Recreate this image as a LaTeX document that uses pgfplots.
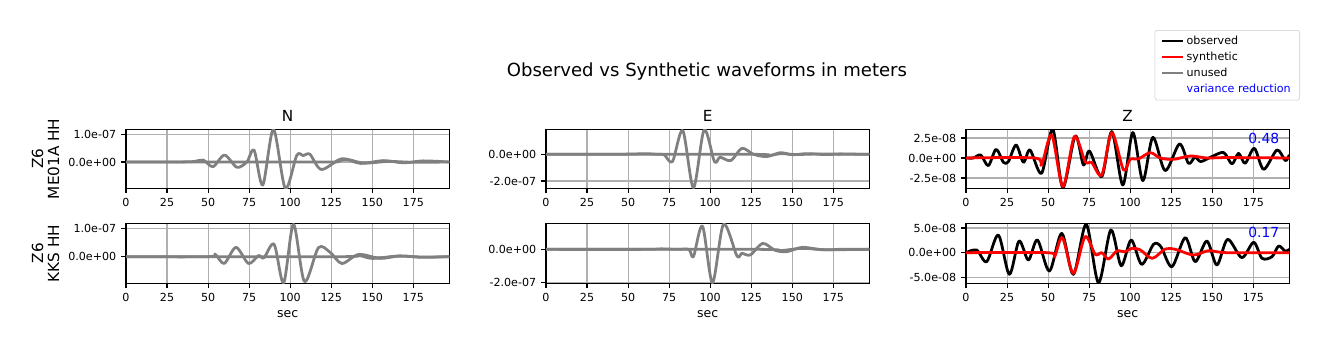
\documentclass[border=0pt]{standalone}
\usepackage{pgfplots}
\pgfplotsset{compat=1.18}
\usepackage{fontspec}
\setmainfont{DejaVu Sans}
\definecolor{mgray}{HTML}{808080}
\definecolor{gridc}{HTML}{B0B0B0}
\definecolor{vrblue}{HTML}{0000FF}
\definecolor{legedge}{HTML}{CCCCCC}
\pgfplotsset{
  wave/.style={
    scale only axis, width=232.78pt, anchor=south west,
    xmin=0, xmax=196.9,
    xtick={0,25,50,75,100,125,150,175},
    xticklabels={0,25,50,75,100,125,150,175},
    grid=major, major grid style={gridc, line width=0.8pt},
    axis line style={line width=0.8pt},
    tick style={black, line width=0.8pt},
    tick align=outside, major tick length=3.5pt, tick pos=left,
    ticklabel style={font=\fontsize{8}{9.6}\selectfont},
    /pgf/number format/assume math mode=true,
  },
  obs/.style={black, line width=2pt, smooth, line join=round},
  syn/.style={red, line width=2pt, smooth, line join=round},
  unu/.style={mgray, line width=2pt, smooth, line join=round},
}
\begin{document}
\begin{tikzpicture}
\path (0,0) rectangle (956.88pt,252.72pt);
% ---------- Row 1 : ME01A (values in 1e-8 m) ----------
\begin{axis}[wave, at={(90.72pt,117.14pt)}, height=42.48pt,
  ymin=-9.5, ymax=11.8, ytick={0,10}, yticklabels={0.0e+00,1.0e-07}]
\addplot[unu] coordinates {(0,0) (120,0) (128,0.3) (135,0.9) (145,-0.4) (160,0.2) (175,-0.1) (196.9,0)};
\addplot[unu] coordinates {(0,0) (20,0) (40,0.1) (47,0.7) (53,-1.7) (60,2.5) (67.5,-1.9) (73.6,0) (78,4.3) (83.3,-8.3) (89.8,11.8) (97,-9.5) (104,2.4) (108,2.3) (112,2.8) (119,-2.7) (131.5,1.2) (142.7,-0.5) (157,0.5) (169,-0.3) (181,0.4) (196.9,0)};
\end{axis}
\begin{axis}[wave, at={(393.12pt,117.14pt)}, height=42.48pt,
  ymin=-25.5, ymax=18.75, ytick={-20,0}, yticklabels={-2.0e-07,0.0e+00}]
\addplot[unu] coordinates {(0,0) (125,0) (135,-1.0) (143,0.5) (152,-0.2) (165,0.2) (196.9,0)};
\addplot[unu] coordinates {(0,0) (40,0) (55,0.3) (61,0.5) (68,0) (72,-0.3) (77,-5.5) (83.3,17.8) (89.8,-25.0) (96.3,18.3) (102.6,-5.5) (106,-2.2) (112.6,-4.7) (119.3,4.5) (126.4,0) (134.5,-1.7) (142.7,1.2) (150,-0.3) (159,0.5) (170,-0.2) (181,0.2) (196.9,0)};
\end{axis}
\begin{axis}[wave, at={(695.52pt,117.14pt)}, height=42.48pt,
  ymin=-3.79, ymax=3.58, ytick={-2.5,0,2.5}, yticklabels={-2.5e-08,0.0e+00,2.5e-08},
  legend style={at={(1.0331,2.683)}, anchor=north east, draw=legedge, rounded corners=2pt,
    font=\fontsize{8}{9.6}\selectfont, cells={anchor=west}, row sep=0pt, inner xsep=4.5pt, inner ysep=2pt},
  legend cell align=left,
  legend image code/.code={\draw[#1] (0pt,0pt) -- (15pt,0pt);}]
\addlegendimage{black, line width=1.44pt}
\addlegendentry{observed}
\addlegendimage{red, line width=1.44pt}
\addlegendentry{synthetic}
\addlegendimage{mgray, line width=1.44pt}
\addlegendentry{unused}
\addlegendimage{empty legend}
\addlegendentry{\textcolor{vrblue}{variance reduction}}
\addplot[obs, forget plot] coordinates {(0,0) (4.5,0) (9,0.37) (13.6,-0.96) (18.3,1.08) (22.8,-0.54) (25.8,-0.46) (30.5,1.62) (35,-0.54) (39,1.0) (46,-1.92) (52.8,3.58) (59,-3.7) (66.5,2.75) (71.5,-0.87) (75.2,0.87) (82.7,-2.33) (88.8,3.3) (95.5,-3.37) (101.6,3.17) (107.7,-2.83) (113.8,2.58) (121.3,-1.58) (130,1.75) (135.5,-0.67) (139.5,0.1) (143,-0.45) (150,0.2) (157,0.67) (162,-0.75) (166,0.58) (170,-0.67) (175.6,1.2) (181.3,-1.42) (189.4,1.0) (194.5,-0.33) (196.9,0.4)};
\addplot[syn, forget plot] coordinates {(0,0) (42,0) (46,-0.87) (52.2,2.87) (59,-3.58) (66,2.67) (72.6,-0.46) (76.6,-0.58) (82.7,-2.12) (88.8,3.17) (95.9,-1.5) (100,-0.17) (105,-0.12) (112.2,0.67) (118.3,0) (126.4,-0.17) (136.6,0.25) (146.7,0) (159,0.05) (196.9,0)};
\node[anchor=east, text=vrblue, font=\fontsize{10}{12}\selectfont] at (axis description cs:0.984,0.853) {0.48};
\end{axis}
% ---------- Row 2 : KKS ----------
\begin{axis}[wave, at={(90.72pt,48.74pt)}, height=43.2pt,
  ymin=-9.4, ymax=11.8, ytick={0,10}, yticklabels={0.0e+00,1.0e-07}]
\addplot[unu] coordinates {(0,0) (130,0) (141,0.5) (150,-0.6) (165,0.2) (180,-0.1) (196.9,0)};
\addplot[unu] coordinates {(0,0) (50,0) (54.3,0.9) (59.8,-2.4) (67,3.3) (74.6,-2.4) (80.7,0.4) (84,-0.4) (90.2,4.4) (96,-9.2) (102,11.4) (108.7,-8.8) (117.2,3.2) (124.4,1.5) (131.5,-2.4) (141.7,0.8) (155,-0.6) (167,0.3) (180,-0.2) (196.9,0)};
\end{axis}
\begin{axis}[wave, at={(393.12pt,48.74pt)}, height=43.2pt,
  ymin=-20.6, ymax=15.8, ytick={-20,0}, yticklabels={-2.0e-07,0.0e+00}]
\addplot[unu] coordinates {(0,0) (130,0) (142,-0.8) (156,0.6) (170,-0.2) (196.9,0)};
\addplot[unu] coordinates {(0,0) (60,0) (70,0.3) (80,0) (87,0) (89.8,-4.4) (95.3,14.1) (101.4,-20.2) (108.1,15.2) (116.3,-4.0) (119.3,-2.4) (124.4,-3.4) (132,3.6) (139.6,-0.6) (146.7,-1.4) (156,1.2) (169,-0.3) (181,0.1) (196.9,0)};
\end{axis}
\begin{axis}[wave, at={(695.52pt,48.74pt)}, height=43.2pt,
  ymin=-6.2, ymax=5.95, ytick={-5,0,5}, yticklabels={-5.0e-08,0.0e+00,5.0e-08}]
\addplot[obs] coordinates {(0,0) (6.5,0.54) (12.6,-1.82) (19.7,3.58) (26.4,-4.39) (32.3,2.36) (38,-1.49) (43.5,2.57) (50.8,-3.72) (58.3,3.92) (65.4,-4.39) (73.2,5.74) (80.7,-6.08) (88.2,4.59) (94.5,-2.64) (100.6,2.57) (107,-2.36) (114.2,1.69) (118.7,1.22) (125.4,-2.84) (133.5,3.04) (139.6,-1.82) (146.7,2.36) (152.8,-2.5) (159.3,2.7) (168,-1.0) (175.2,2.1) (180.3,-1.15) (186.4,-0.8) (190.4,1.35) (194.5,0.3) (196.9,0.7)};
\addplot[syn] coordinates {(0,0) (50,0) (53.9,-0.81) (58.7,3.04) (65.4,-4.19) (72.5,3.24) (78.7,-0.34) (82.7,0) (86.8,-1.28) (91.9,0.34) (97,0.2) (101,0.88) (106,0.6) (113.4,-1.15) (121.3,0.74) (127.4,0.68) (138.6,-0.47) (147.7,0.4) (159,0) (196.9,0)};
\node[anchor=east, text=vrblue, font=\fontsize{10}{12}\selectfont] at (axis description cs:0.984,0.84) {0.17};
\end{axis}
% ---------- texts ----------
\node[font=\fontsize{13}{15.6}\selectfont] at (509.0pt,200.9pt) {Observed vs Synthetic waveforms in meters};
\node[font=\fontsize{11}{13.2}\selectfont] at (207.1pt,169.2pt) {N};
\node[font=\fontsize{11}{13.2}\selectfont] at (509.5pt,169.2pt) {E};
\node[font=\fontsize{11}{13.2}\selectfont] at (811.9pt,169.2pt) {Z};
\node[font=\fontsize{9}{10.8}\selectfont] at (207.1pt,26.6pt) {sec};
\node[font=\fontsize{9}{10.8}\selectfont] at (509.5pt,26.6pt) {sec};
\node[font=\fontsize{9}{10.8}\selectfont] at (811.9pt,26.6pt) {sec};
\node[rotate=90, align=center, font=\fontsize{11}{11.5}\selectfont] at (32.8pt,138.4pt) {Z6\\ME01A HH};
\node[rotate=90, align=center, font=\fontsize{11}{11.5}\selectfont] at (32.8pt,70.3pt) {Z6\\KKS HH};
\end{tikzpicture}
\end{document}
